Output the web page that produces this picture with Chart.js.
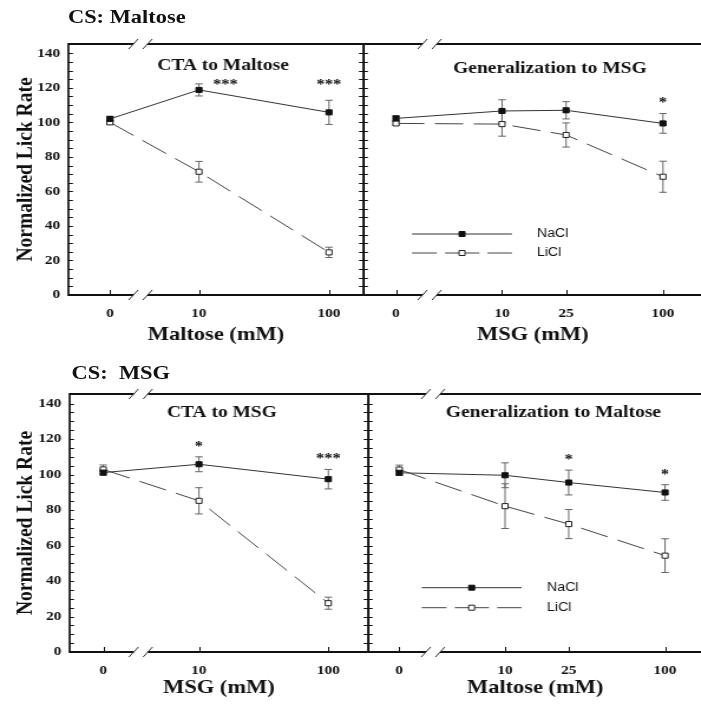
<!DOCTYPE html>
<html><head><meta charset="utf-8">
<script src="https://cdn.jsdelivr.net/npm/chart.js@4.4.1/dist/chart.umd.min.js"></script>
<style>
html,body{margin:0;padding:0;background:#fff;overflow:hidden;width:701px;height:707px}
#fig{position:absolute;left:0;top:0;width:595px;height:707px;transform:scaleX(1.18);transform-origin:0 0}
canvas{position:absolute}
.hd{position:absolute;font:bold 19px "Liberation Serif","Times New Roman",serif;color:#111;white-space:pre;line-height:19px}
</style></head><body>
<div id="fig">
<div class="hd" style="left:57.6px;top:7px">CS: Maltose</div>
<div class="hd" style="left:60.7px;top:363px">CS:  MSG</div>
<canvas id="tl" width="310" height="350" style="left:0;top:0"></canvas>
<canvas id="tr" width="287" height="350" style="left:308px;top:0"></canvas>
<canvas id="bl" width="314" height="357" style="left:0;top:350px"></canvas>
<canvas id="br" width="283" height="357" style="left:312px;top:350px"></canvas>
</div>
<script>
// ---------- data ----------
const yTicks = [0, 20, 40, 60, 80, 100, 120, 140];

// CS: Maltose — CTA to Maltose
const tlConc = [0, 10, 100];
const tlNaCl = [102, 118.8, 105.8];
const tlNaClErr = [1.5, 3.5, 7];
const tlLiCl = [100, 71.4, 24.7];
const tlLiClErr = [1, 6, 3];
const tlStarConc = [16, 100];
const tlStarVal = [123.4, 123.4];
const tlStarText = ['***', '***'];

// CS: Maltose — Generalization to MSG
const trConc = [0, 10, 25, 100];
const trNaCl = [102.3, 106.6, 107, 99.4];
const trNaClErr = [1.5, 6.5, 5, 5.7];
const trLiCl = [99.4, 99, 92.7, 68.5];
const trLiClErr = [1, 7, 7, 9];
const trStarConc = [100];
const trStarVal = [113];
const trStarText = ['*'];

// CS: MSG — CTA to MSG
const blConc = [0, 10, 100];
const blNaCl = [101.1, 105.8, 97.4];
const blNaClErr = [1.5, 4.2, 5.5];
const blLiCl = [102.9, 85.2, 27.5];
const blLiClErr = [2.5, 7.4, 3.4];
const blStarConc = [10, 100];
const blStarVal = [117.4, 110.2];
const blStarText = ['*', '***'];

// CS: MSG — Generalization to Maltose
const brConc = [0, 10, 25, 100];
const brNaCl = [101, 99.6, 95.5, 89.9];
const brNaClErr = [1.5, 7, 7, 4.4];
const brLiCl = [102.8, 82.2, 72.1, 54.3];
const brLiClErr = [2.5, 12.6, 8.2, 9.5];
const brStarConc = [25, 100];
const brStarVal = [109.9, 101.5];
const brStarText = ['*', '*'];

// ---------- drawing ----------
const SERIF = '"Liberation Serif","Times New Roman",serif';
const SANS = '"Liberation Sans",Arial,sans-serif';
const INK = '#111';

function xpos(c, zero) { return c === 0 ? zero : Math.log10(c); }

const panelPlugin = {
  id: 'panel',
  beforeDatasetsDraw(chart, args, o) {
    const ctx = chart.ctx, ys = chart.scales.y;
    ctx.save();
    ctx.strokeStyle = '#666'; ctx.lineWidth = 1;
    chart.data.datasets.forEach((ds, di) => {
      const meta = chart.getDatasetMeta(di);
      meta.data.forEach((pt, i) => {
        const v = ds.data[i].y, e = ds.errorBars[i];
        const y1 = ys.getPixelForValue(v + e), y2 = ys.getPixelForValue(v - e);
        const x = pt.x;
        ctx.beginPath();
        ctx.moveTo(x, y1); ctx.lineTo(x, y2);
        ctx.moveTo(x - 3.2, y1); ctx.lineTo(x + 3.2, y1);
        ctx.moveTo(x - 3.2, y2); ctx.lineTo(x + 3.2, y2);
        ctx.stroke();
      });
    });
    ctx.restore();
  },
  afterDraw(chart, args, o) {
    const ctx = chart.ctx, a = chart.chartArea, xs = chart.scales.x, ys = chart.scales.y;
    ctx.save();
    ctx.strokeStyle = INK;
    const bx = xs.getPixelForValue(o.breakAt);
    // top & bottom axes with break
    ctx.lineWidth = 2;
    [a.top, a.bottom].forEach(yl => {
      ctx.beginPath();
      ctx.moveTo(a.left, yl); ctx.lineTo(bx - 6, yl);
      ctx.moveTo(bx + 6, yl); ctx.lineTo(a.right, yl);
      ctx.stroke();
    });
    ctx.lineWidth = 1; ctx.strokeStyle = '#333';
    [a.top, a.bottom].forEach(yl => {
      ctx.beginPath();
      [-6, 6].forEach(d => { ctx.moveTo(bx + d - 4, yl + 5); ctx.lineTo(bx + d + 4, yl - 5); });
      ctx.stroke();
    });
    // vertical borders
    ctx.strokeStyle = INK; ctx.lineWidth = 1.7;
    ctx.beginPath();
    ctx.moveTo(a.left, a.top - 1); ctx.lineTo(a.left, a.bottom + 1);
    if (o.rightBorder) { ctx.moveTo(a.right, a.top - 1); ctx.lineTo(a.right, a.bottom + 1); }
    ctx.stroke();
    // y ticks (inward), every 5
    ctx.lineWidth = 1;
    ctx.beginPath();
    for (let v = 0; v <= 140; v += 5) {
      const y = Math.round(ys.getPixelForValue(v)) + 0.5;
      ctx.moveTo(a.left, y); ctx.lineTo(a.left + 3.8, y);
      if (o.rightBorder) { ctx.moveTo(a.right, y); ctx.lineTo(a.right - 3.8, y); }
    }
    // x ticks (upward)
    o.xTickPos.forEach(p => {
      const x = Math.round(xs.getPixelForValue(p)) + 0.5;
      ctx.moveTo(x, a.bottom); ctx.lineTo(x, a.bottom - 5);
    });
    ctx.stroke();
    // panel title
    ctx.fillStyle = INK;
    ctx.font = 'bold 16.5px ' + SERIF;
    ctx.textAlign = 'center'; ctx.textBaseline = 'middle';
    ctx.fillText(o.title, a.left + o.titleDx, a.top + o.titleDy);
    // significance stars
    ctx.font = 'bold 14px ' + SERIF;
    ctx.textBaseline = 'alphabetic';
    o.stars.forEach(s => {
      const x = xs.getPixelForValue(s.x), y = ys.getPixelForValue(s.v);
      ctx.fillText(s.t, x, y + 0.5 * 14);
    });
    // legend
    if (o.legend) {
      const L = o.legend;
      chart.data.datasets.forEach((ds, i) => {
        const y = a.top + L.rows[i];
        ctx.strokeStyle = ds.borderColor; ctx.lineWidth = 1;
        ctx.setLineDash(i === 1 ? [21, 7, 29, 7, 21, 60] : []);
        ctx.beginPath(); ctx.moveTo(a.left + L.x0, y); ctx.lineTo(a.left + L.x1, y); ctx.stroke();
        ctx.setLineDash([]);
        const mx = a.left + (L.x0 + L.x1) / 2;
        ctx.fillStyle = ds.pointBackgroundColor; ctx.strokeStyle = ds.pointBorderColor;
        ctx.beginPath(); ctx.rect(mx - 2.5, y - 2.5, 5, 5); ctx.fill(); ctx.stroke();
        ctx.fillStyle = INK; ctx.font = '12px ' + SANS;
        ctx.textAlign = 'left'; ctx.textBaseline = 'middle';
        ctx.fillText(ds.label, a.left + L.tx, y);
      });
    }
    ctx.restore();
  }
};

function makePanel(id, cfg) {
  const pts = vals => cfg.conc.map((c, i) => ({ x: xpos(c, cfg.zero), y: vals[i] }));
  const stars = cfg.starConc.map((c, i) => ({ x: xpos(c, cfg.zero), v: cfg.starVal[i], t: cfg.starText[i] }));
  return new Chart(document.getElementById(id), {
    type: 'line',
    data: {
      datasets: [
        { label: 'NaCl', data: pts(cfg.nacl), errorBars: cfg.naclErr,
          borderColor: '#333', borderWidth: 1, pointStyle: 'rect', pointRadius: 3.6,
          pointBackgroundColor: '#111', pointBorderColor: '#111', pointBorderWidth: 1 },
        { label: 'LiCl', data: pts(cfg.licl), errorBars: cfg.liclErr,
          borderColor: '#444', borderWidth: 1, borderDash: [24, 9], pointStyle: 'rect', pointRadius: 3.6,
          pointBackgroundColor: '#fff', pointBorderColor: '#222', pointBorderWidth: 1 }
      ]
    },
    options: {
      responsive: false, animation: false, devicePixelRatio: 1, events: [],
      layout: { autoPadding: false, padding: { left: 0, top: 44, right: cfg.padRight, bottom: 0 } },
      plugins: {
        legend: { display: false }, tooltip: { enabled: false },
        panel: {
          breakAt: 0.55, rightBorder: cfg.rightBorder,
          xTickPos: cfg.conc.map(c => xpos(c, cfg.zero)),
          title: cfg.title, titleDx: cfg.titleDx, titleDy: cfg.titleDy,
          stars: stars, legend: cfg.legend
        }
      },
      scales: {
        x: {
          type: 'linear', min: cfg.xmin, max: cfg.xmax,
          grid: { display: false, drawTicks: false }, border: { display: false },
          afterBuildTicks: s => { s.ticks = cfg.conc.map(c => ({ value: xpos(c, cfg.zero) })); },
          ticks: { autoSkip: false, maxRotation: 0, padding: cfg.xTickPad, color: INK,
                   font: { family: SERIF, weight: 'bold', size: 13 },
                   callback: (v, i) => String(cfg.conc[i]) },
          title: { display: true, text: cfg.xTitle, color: INK,
                   font: { family: SERIF, weight: 'bold', size: 19 },
                   padding: { top: 0, bottom: cfg.xTitlePad } },
          afterFit: s => { s.height = 55; }
        },
        y: {
          display: cfg.showY, min: 0, max: 145.4,
          grid: { display: false, drawTicks: false }, border: { display: false },
          afterBuildTicks: s => { s.ticks = yTicks.map(v => ({ value: v })); },
          ticks: { padding: 7, color: INK, font: { family: SERIF, weight: 'bold', size: 13 } },
          title: { display: true, text: 'Normalized Lick Rate', color: INK,
                   font: { family: SERIF, weight: 'bold', size: 19.5 },
                   padding: { top: 10.3, bottom: 0 } },
          afterFit: s => { s.width = cfg.yWidth; }
        }
      }
    },
    plugins: [panelPlugin]
  });
}

makePanel('tl', { conc: tlConc, nacl: tlNaCl, naclErr: tlNaClErr, licl: tlLiCl, liclErr: tlLiClErr,
  starConc: tlStarConc, starVal: tlStarVal, starText: tlStarText,
  zero: 0.315, xmin: -0.004, xmax: 2.265, showY: true, yWidth: 58, padRight: 2, rightBorder: true,
  title: 'CTA to Maltose', titleDx: 131, titleDy: 21.5, xTitle: 'Maltose (mM)', xTickPad: 10.5, xTitlePad: 4, legend: null });

makePanel('tr', { conc: trConc, nacl: trNaCl, naclErr: trNaClErr, licl: trLiCl, liclErr: trLiClErr,
  starConc: trStarConc, starVal: trStarVal, starText: trStarText,
  zero: 0.341, xmin: 0.139, xmax: 2.243, showY: false, yWidth: 0, padRight: 0, rightBorder: false,
  title: 'Generalization to MSG', titleDx: 158, titleDy: 25, xTitle: 'MSG (mM)', xTickPad: 10.5, xTitlePad: 4,
  legend: { x0: 41.2, x1: 125.9, tx: 147, rows: [190, 209] } });

makePanel('bl', { conc: blConc, nacl: blNaCl, naclErr: blNaClErr, licl: blLiCl, liclErr: blLiClErr,
  starConc: blStarConc, starVal: blStarVal, starText: blStarText,
  zero: 0.26, xmin: 0, xmax: 2.308, showY: true, yWidth: 59, padRight: 2, rightBorder: true,
  title: 'CTA to MSG', titleDx: 129, titleDy: 18.5, xTitle: 'MSG (mM)', xTickPad: 11, xTitlePad: 7.6, legend: null });

makePanel('br', { conc: brConc, nacl: brNaCl, naclErr: brNaClErr, licl: brLiCl, liclErr: brLiClErr,
  starConc: brStarConc, starVal: brStarVal, starText: brStarText,
  zero: 0.339, xmin: 0.1445, xmax: 2.2315, showY: false, yWidth: 0, padRight: 0, rightBorder: false,
  title: 'Generalization to Maltose', titleDx: 157, titleDy: 18.5, xTitle: 'Maltose (mM)', xTickPad: 11, xTitlePad: 7.6,
  legend: { x0: 45.4, x1: 130, tx: 151.6, rows: [193.7, 213.7] } });
</script>
</body></html>
